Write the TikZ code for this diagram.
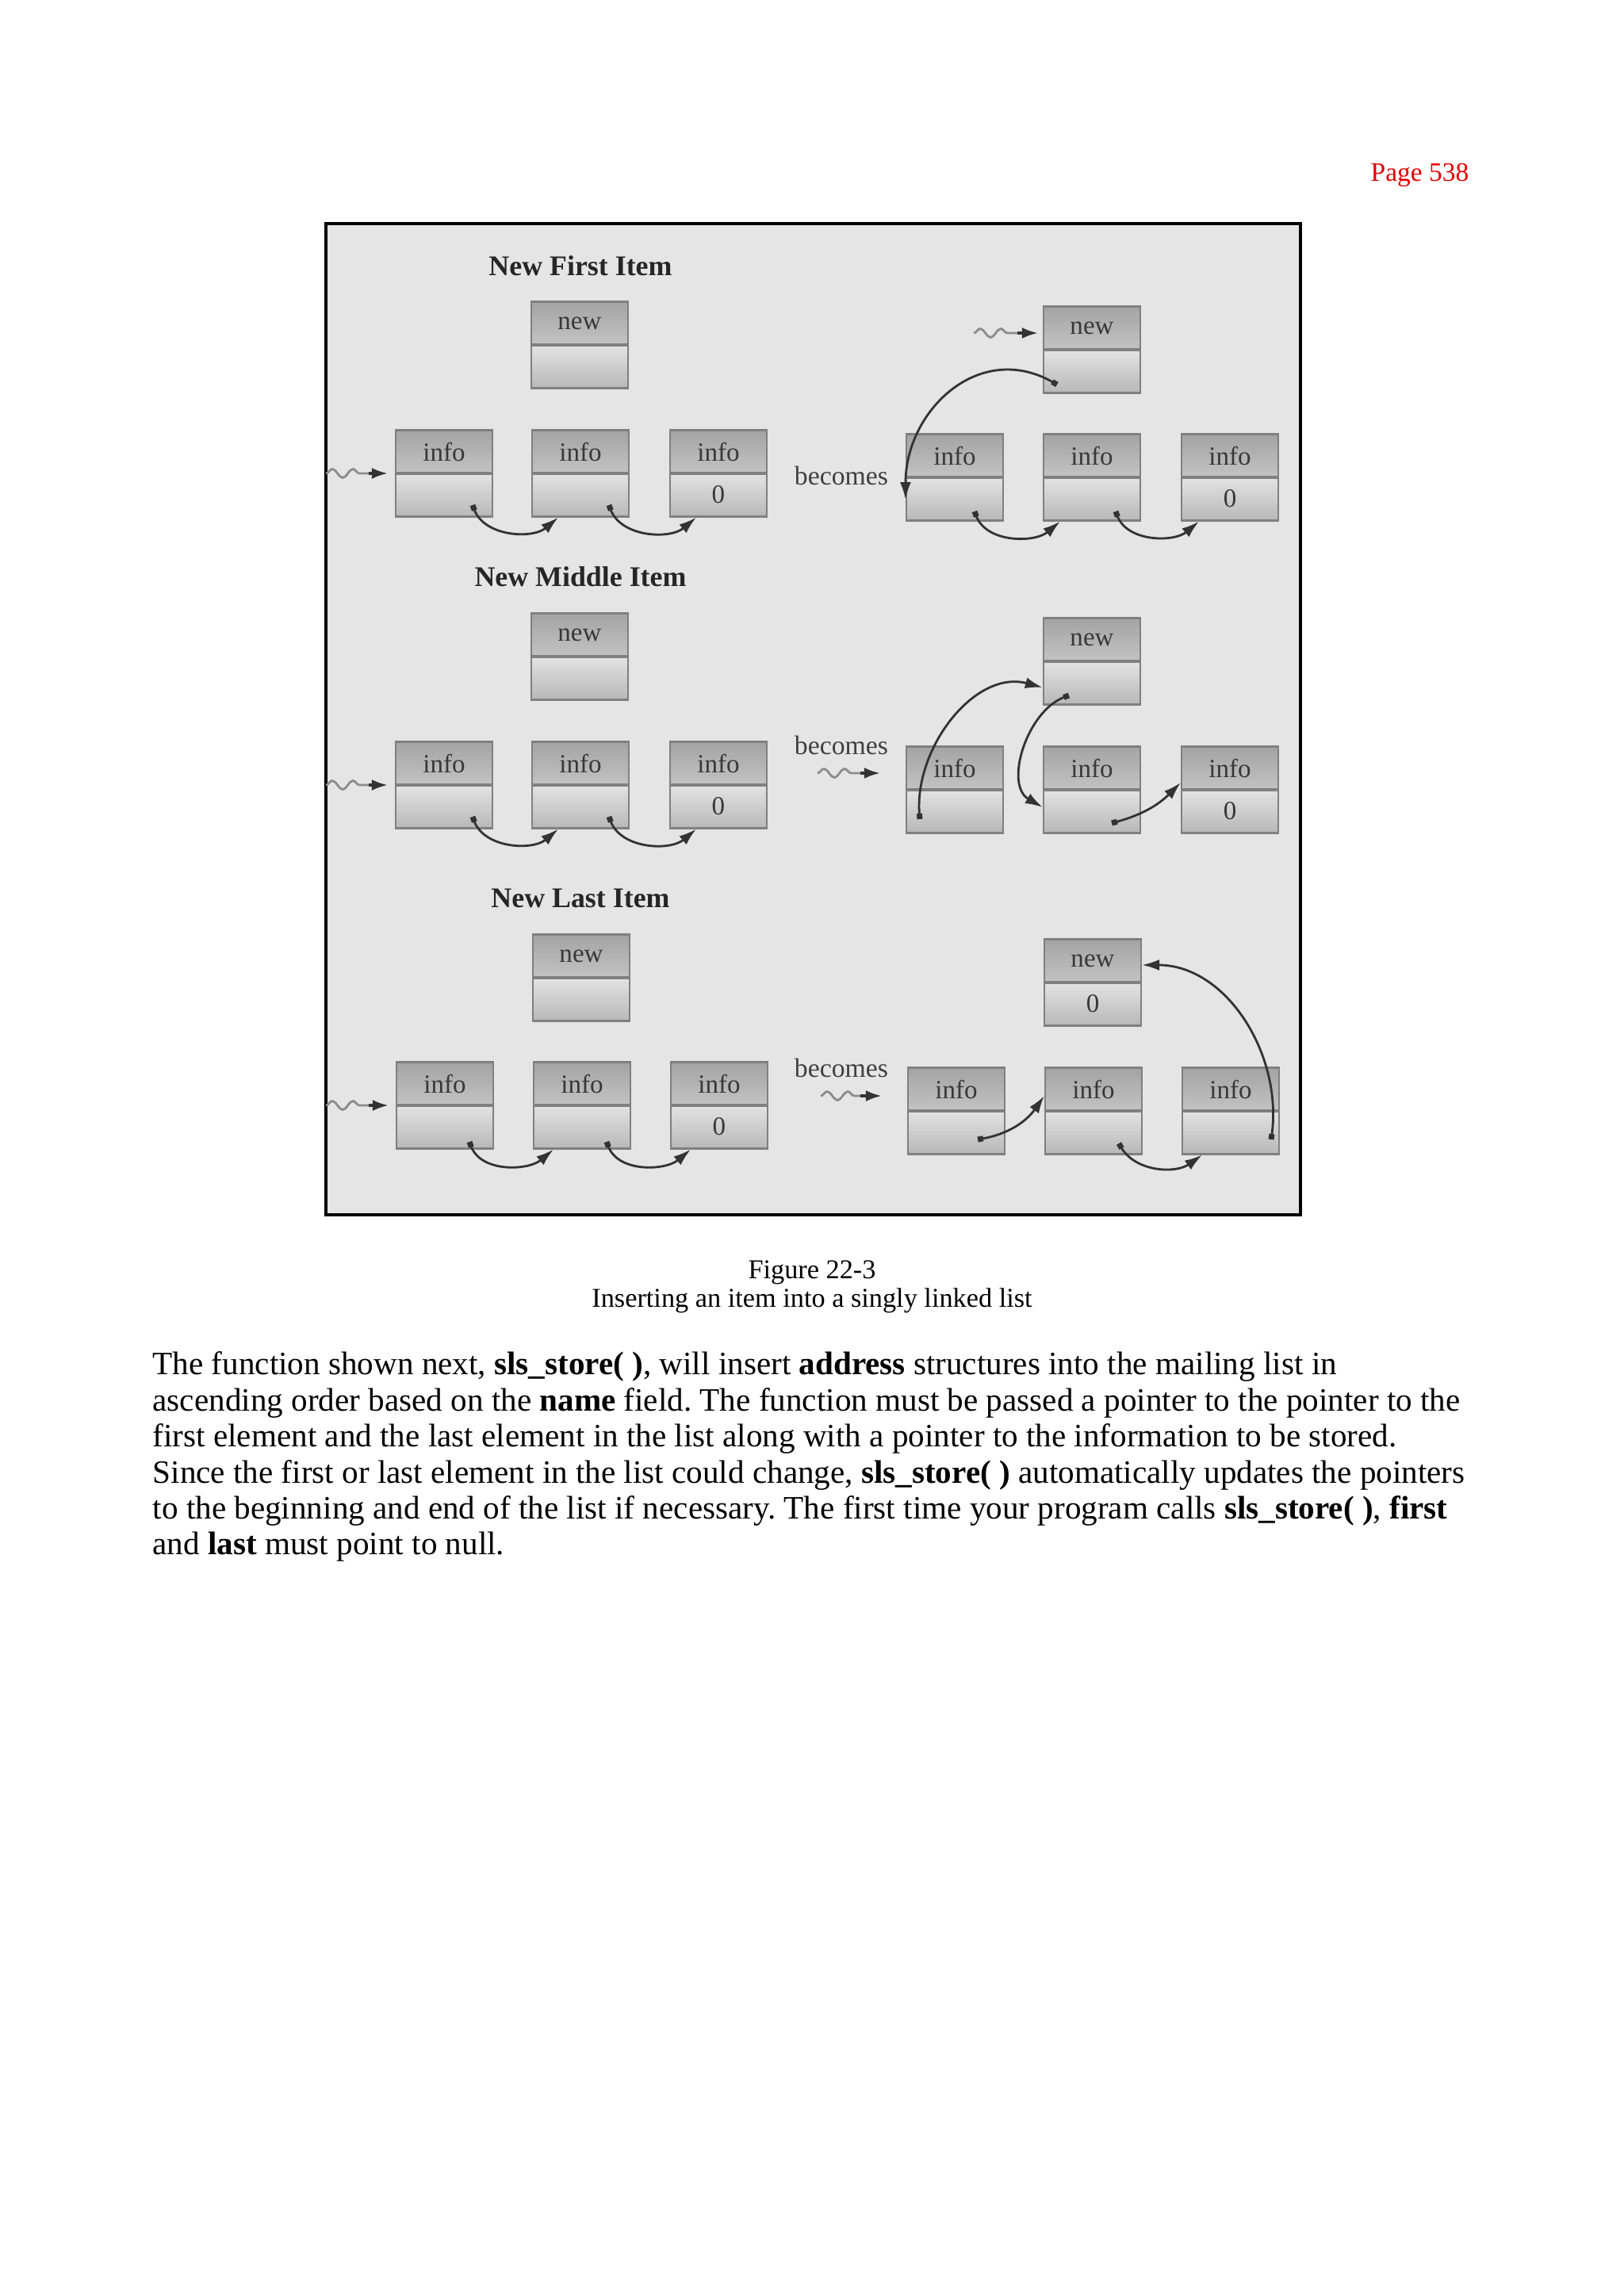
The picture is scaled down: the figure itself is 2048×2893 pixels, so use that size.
\documentclass[tikz,border=0pt]{standalone}
\usepackage{fontspec}
\setmainfont{Liberation Serif}
\frenchspacing
\usetikzlibrary{arrows.meta,decorations.pathmorphing}

\definecolor{framebg}{gray}{0.9}
\definecolor{celltop}{gray}{0.64}
\definecolor{cellmid}{gray}{0.89}
\definecolor{cellbot}{gray}{0.72}
\definecolor{pagered}{rgb}{0.9,0,0}

\tikzset{
  cell/.style={draw=black!50, line width=0.6pt, minimum width=1.22cm,
    minimum height=1.09cm, inner sep=0pt,
    path picture={
      \shade[top color=celltop, bottom color=cellmid]
        (path picture bounding box.north west) rectangle (path picture bounding box.east);
      \shade[top color=cellmid, bottom color=cellbot]
        (path picture bounding box.west) rectangle (path picture bounding box.south east);
      \draw[black!50, line width=1pt]
        (path picture bounding box.west) -- (path picture bounding box.east);
    }},
  celltext/.style={inner sep=0pt, text=black!78, font=\fontsize{9.4}{11}\selectfont},
  heading/.style={text=black!85, font=\bfseries\fontsize{10.2}{12}\selectfont},
  becomes/.style={text=black!75, font=\fontsize{9.6}{11}\selectfont},
  wave/.style={draw=black!45, line width=0.8pt, decorate,
    decoration={snake, amplitude=0.055cm, segment length=0.26cm}},
  wavetip/.style={-{Latex[length=0.2cm,width=0.14cm]}, line width=0.9pt, draw=black!80},
  ptrlink/.style={{Square[length=0.07cm,width=0.07cm]}-{Latex[length=0.22cm,width=0.14cm]},
    line width=0.8pt, draw=black!80},
  captext/.style={anchor=base, inner sep=0pt, font=\fontsize{9.75}{11}\selectfont},
  bodytext/.style={anchor=base west, inner sep=0pt, font=\fontsize{11.7}{13}\selectfont},
}

% (name, centre, upper text, lower text)
\newcommand{\listcell}[4]{
    \node[cell] (#1) at (#2) {};
    \node[celltext] (#1-top) at ([yshift=0.27cm]#1.center) {#3};
    \node[celltext] (#1-bot) at ([yshift=-0.27cm]#1.center) {#4};
}
% (name, start, wave length, target, shorten)
\newcommand{\wavein}[5]{
    \coordinate (#1) at (#2);
    \coordinate (#1-end) at ([xshift=#3]#1);
    \draw[wave] (#1) -- (#1-end);
    \draw[wavetip, shorten >=#5] (#1-end) -- (#1-end -| #4);
}
% (from node, dot offset, target, curve)
\newcommand{\pointer}[4]{
    \draw[ptrlink] ([shift={(#2)}]#1.center) to[#4] (#3);
}

\begin{document}
\begin{tikzpicture}[x=0.01cm, y=0.01cm]

  \useasboundingbox[fill=white] (0,-2893) rectangle (2048,0);

  \node[anchor=base east, inner sep=0pt, text=pagered,
    font=\fontsize{9.52}{11}\selectfont] (pageno) at (1853,-228) {Page 538};

  \draw[line width=1.2pt, fill=framebg] (411,-282) rectangle (1640,-1532);

  % new first item
  \node[heading] (title1) at (732,-335) {New First Item};
  \listcell{ln1}{731,-435}{new}{}
  \listcell{la1}{560,-597}{info}{}
  \listcell{lb1}{732,-597}{info}{}
  \listcell{lc1}{906,-597}{info}{0}
  \wavein{lw1}{411,-597}{0.54cm}{la1.west}{0.09cm}
  \pointer{la1}{36,-40}{[xshift=-0.28cm]lb1.south}{out=-70,in=220}
  \pointer{lb1}{36,-40}{[xshift=-0.28cm]lc1.south}{out=-70,in=220}

  \node[becomes] (bec1) at (1061,-600) {becomes};
  \listcell{rn1}{1377,-441}{new}{}
  \listcell{ra1}{1204,-602}{info}{}
  \listcell{rb1}{1377,-602}{info}{}
  \listcell{rc1}{1551,-602}{info}{0}
  \wavein{rw1}{1228,-420}{0.55cm}{rn1.west}{0.06cm}
  \pointer{rn1}{-44,-44}{[yshift=-0.28cm]ra1.west}{out=150,in=90,looseness=1.2}
  \pointer{ra1}{25,-43}{[xshift=-0.4cm]rb1.south}{out=-70,in=220}
  \pointer{rb1}{30,-43}{[xshift=-0.39cm]rc1.south}{out=-70,in=220}

  % new middle item
  \node[heading] (title2) at (732,-727) {New Middle Item};
  \listcell{ln2}{731,-828}{new}{}
  \listcell{la2}{560,-990}{info}{}
  \listcell{lb2}{732,-990}{info}{}
  \listcell{lc2}{906,-990}{info}{0}
  \wavein{lw2}{411,-990}{0.54cm}{la2.west}{0.09cm}
  \pointer{la2}{36,-40}{[xshift=-0.28cm]lb2.south}{out=-70,in=220}
  \pointer{lb2}{36,-40}{[xshift=-0.28cm]lc2.south}{out=-70,in=220}

  \node[becomes] (bec2) at (1061,-940) {becomes};
  \listcell{rn2}{1377,-834}{new}{}
  \listcell{ra2}{1204,-996}{info}{}
  \listcell{rb2}{1377,-996}{info}{}
  \listcell{rc2}{1551,-996}{info}{0}
  \wavein{rw2}{1031,-975}{0.54cm}{ra2.west}{0.32cm}
  \pointer{ra2}{-44,-37}{[yshift=-0.33cm]rn2.west}{out=95,in=165}
  \pointer{rn2}{-29,-43}{[yshift=-0.22cm]rb2.west}{out=200,in=150}
  \pointer{rb2}{25,-42}{[yshift=0.09cm]rc2.west}{out=15,in=225}

  % new last item
  \node[heading] (title3) at (732,-1133) {New Last Item};
  \listcell{ln3}{733,-1233}{new}{}
  \listcell{la3}{561,-1394}{info}{}
  \listcell{lb3}{734,-1394}{info}{}
  \listcell{lc3}{907,-1394}{info}{0}
  \wavein{lw3}{411,-1394}{0.54cm}{la3.west}{0.09cm}
  \pointer{la3}{31,-46}{[xshift=-0.36cm]lb3.south}{out=-70,in=220}
  \pointer{lb3}{31,-46}{[xshift=-0.36cm]lc3.south}{out=-70,in=220}

  \node[becomes] (bec3) at (1061,-1347) {becomes};
  \listcell{rn3}{1378,-1239}{new}{0}
  \listcell{ra3}{1206,-1401}{info}{}
  \listcell{rb3}{1379,-1401}{info}{}
  \listcell{rc3}{1552,-1401}{info}{}
  \wavein{rw3}{1035,-1382}{0.50cm}{ra3.west}{0.32cm}
  \pointer{ra3}{27,-36}{[yshift=0.19cm]rb3.west}{out=10,in=235}
  \pointer{rb3}{32,-41}{[xshift=-0.36cm]rc3.south}{out=-60,in=215}
  \pointer{rc3}{51,-36}{[yshift=0.22cm]rn3.east}{out=82,in=0}

  \node[captext] (figno) at (1024,-1612) {Figure 22-3};
  \node[captext] (figcap) at (1024,-1648) {Inserting an item into a singly linked list};

  \node[bodytext] (body1) at (192,-1733) {The function shown next, \textbf{sls\_store( )}, will insert \textbf{address} structures into the mailing list in};
  \node[bodytext] (body2) at (192,-1779) {ascending order based on the \textbf{name} field. The function must be passed a pointer to the pointer to the};
  \node[bodytext] (body3) at (192,-1824) {first element and the last element in the list along with a pointer to the information to be stored.};
  \node[bodytext] (body4) at (192,-1870) {Since the first or last element in the list could change, \textbf{sls\_store( )} automatically updates the pointers};
  \node[bodytext] (body5) at (192,-1915) {to the beginning and end of the list if necessary. The first time your program calls \textbf{sls\_store( )}, \textbf{first}};
  \node[bodytext] (body6) at (192,-1960) {and \textbf{last} must point to null.};

\end{tikzpicture}
\end{document}
